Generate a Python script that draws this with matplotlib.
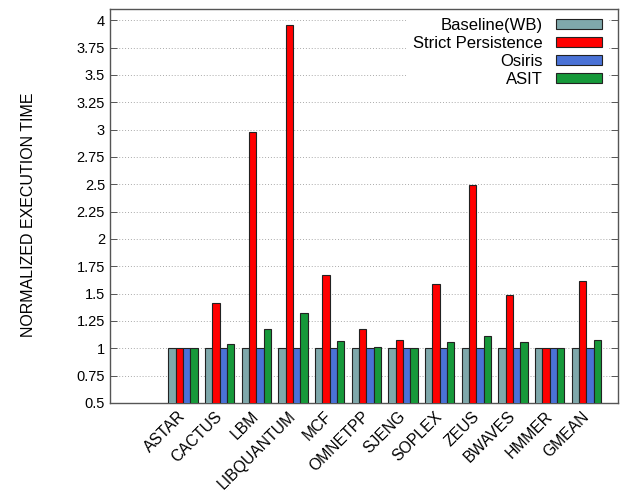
import numpy as np
import matplotlib.pyplot as plt
from matplotlib.transforms import ScaledTranslation

# benchmark names and normalized execution time per scheme
benchmarks = ["ASTAR", "CACTUS", "LBM", "LIBQUANTUM", "MCF", "OMNETPP",
              "SJENG", "SOPLEX", "ZEUS", "BWAVES", "HMMER", "GMEAN"]
baseline = [1.0, 1.0, 1.0, 1.0, 1.0, 1.0, 1.0, 1.0, 1.0, 1.0, 1.0, 1.0]
strict = [1.0, 1.41, 2.98, 3.96, 1.67, 1.18, 1.08, 1.59, 2.49, 1.49, 1.0, 1.62]
osiris = [1.0, 1.0, 1.005, 1.005, 1.0, 1.0, 1.0, 1.0, 1.0, 1.0, 1.0, 1.0]
asit = [1.0, 1.035, 1.18, 1.32, 1.07, 1.012, 1.006, 1.06, 1.115, 1.06, 1.0, 1.075]

series = [("Baseline(WB)", baseline, "#7fa8ab"),
          ("Strict Persistence", strict, "#ff0000"),
          ("Osiris", osiris, "#4a72d6"),
          ("ASIT", asit, "#16993a")]

plt.rcParams['font.family'] = ['Liberation Sans', 'DejaVu Sans']

fig = plt.figure(figsize=(6.21, 4.95), dpi=100)
ax = fig.add_axes([0.177, 0.186, 0.818, 0.795])

x = np.arange(len(benchmarks))
w = 0.2
for k, (name, vals, col) in enumerate(series):
    ax.bar(x + (k - 1.5) * w, vals, w, bottom=0, color=col,
           edgecolor='#222222', linewidth=0.8, label=name, zorder=3)

ax.set_ylim(0.5, 4.1)
ax.set_xlim(-1.99, 11.86)
yt = np.arange(0.5, 4.01, 0.25)
ax.set_yticks(yt)
ax.set_yticklabels(['%g' % v for v in yt], fontsize=10.5)
ax.yaxis.grid(True, linestyle=(0, (1, 2)), color='#aaaaaa', linewidth=0.7, zorder=0)
ax.tick_params(axis='y', direction='in', right=True, length=5, width=0.7, color='#555555')
ax.set_xticks(x)
ax.set_xticklabels(benchmarks, rotation=45, ha='right', va='top',
                   rotation_mode='anchor', fontsize=11.3)
ax.tick_params(axis='x', length=0, pad=4)
# nudge the rotated labels a little to the left, as in the original
shift = ScaledTranslation(-5 / 100, 0, fig.dpi_scale_trans)
for lab in ax.get_xticklabels():
    lab.set_transform(lab.get_transform() + shift)
for s in ax.spines.values():
    s.set_color('#555555')
    s.set_linewidth(1.0)

ax.set_ylabel('NORMALIZED EXECUTION TIME', fontsize=11.5)
ax.yaxis.set_label_coords(-0.145, 0.478)

leg = ax.legend(loc='upper right', bbox_to_anchor=(0.985, 1.0), markerfirst=False,
                fontsize=12, frameon=True,
                handlelength=2.76, handleheight=0.55, handletextpad=0.8,
                labelspacing=0.18, borderaxespad=0.1, borderpad=0.4)
leg.get_frame().set_edgecolor('none')
leg.get_frame().set_facecolor('white')
leg.get_frame().set_alpha(1.0)
leg._legend_box.align = 'right'
leg.set_zorder(5)

fig.savefig('out.png', dpi=100)
